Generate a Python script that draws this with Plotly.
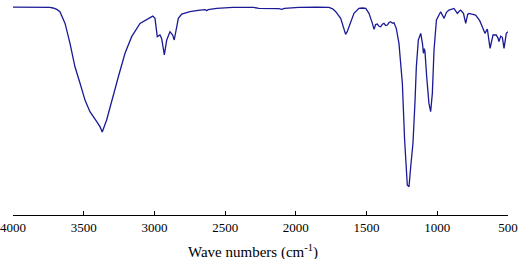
import plotly.graph_objects as go

wavenumber = [4000, 3900, 3800, 3740, 3717, 3690, 3668, 3632, 3597, 3562, 3526, 3491, 3456, 3430,
              3408, 3385, 3369, 3338, 3302, 3255, 3208, 3161, 3102, 3055, 3012, 2996, 2980, 2961,
              2949, 2930, 2913, 2890, 2871, 2860, 2847, 2831, 2807, 2749, 2678, 2640, 2630, 2620,
              2560, 2444, 2300, 2261, 2120, 2100, 2080, 1978, 1850, 1766, 1740, 1718, 1683, 1665,
              1648, 1635, 1624, 1589, 1554, 1530, 1506, 1483, 1459, 1447, 1436, 1424, 1412, 1400,
              1388, 1377, 1365, 1353, 1341, 1330, 1318, 1306, 1290, 1271, 1247, 1231, 1212, 1200,
              1188, 1172, 1157, 1148, 1134, 1117, 1105, 1098, 1092, 1087, 1075, 1059, 1047, 1035,
              1023, 1006, 976, 952, 935, 917, 882, 858, 845, 835, 815, 799, 785, 776, 729, 700,
              682, 663, 646, 627, 606, 583, 570, 564, 552, 540, 528, 512, 500]

transmittance = [100, 100, 100, 99.9, 99.6, 98.9, 97.8, 92.2, 82.6, 71.3, 63.4, 55.3, 49.7, 46.8,
                 44.9, 42.5, 39.9, 45.7, 55.3, 66.5, 77.8, 85.8, 92.2, 94.2, 95.7, 94.6, 85.8, 86.6,
                 85.0, 77.0, 84.2, 88.2, 86.6, 84.2, 88.2, 94.6, 96.7, 97.8, 98.6, 98.8, 98.3, 98.8,
                 99.4, 99.9, 99.9, 99.4, 99.3, 98.9, 99.4, 99.9, 100, 99.9, 99.2, 97.8, 94.6, 90.5,
                 86.9, 88.5, 90.6, 97.0, 99.4, 99.6, 99.4, 97.0, 92.2, 89.3, 91.6, 91.9, 90.8, 90.6,
                 91.8, 92.2, 91.2, 91.4, 92.6, 93.0, 92.3, 92.5, 89.8, 82.6, 63.4, 36.1, 14.4, 13.6,
                 23.2, 34.5, 55.3, 71.3, 84.2, 87.4, 82.6, 77.8, 80.0, 78.6, 66.5, 53.7, 49.7, 58.5,
                 79.4, 93.8, 97.8, 94.6, 97.5, 98.6, 99.4, 97.0, 98.0, 98.6, 97.0, 92.2, 96.5, 97.0,
                 96.2, 93.5, 90.6, 87.4, 89.5, 80.2, 86.6, 86.6, 85.0, 83.4, 86.0, 85.5, 80.2, 87.4,
                 88.2]

tick_values = [4000, 3500, 3000, 2500, 2000, 1500, 1000, 500]
tick_labels = [str(v) for v in tick_values]
x_title = "Wave numbers (cm<sup>-1</sup>)"

fig = go.Figure()
fig.add_trace(go.Scatter(x=wavenumber, y=transmittance, mode="lines",
                         line=dict(color="#1a1a96", width=1.3), hoverinfo="skip"))

fig.update_layout(
    width=518, height=259,
    margin=dict(l=13, r=10, t=3, b=44, autoexpand=False),
    paper_bgcolor="white", plot_bgcolor="white",
    showlegend=False,
    font=dict(family="Liberation Serif", color="black", size=13),
    xaxis=dict(
        range=[4000, 500], tickvals=tick_values, ticktext=tick_labels,
        showline=True, linecolor="black", linewidth=1,
        ticks="inside", ticklen=4, tickcolor="black", tickwidth=1,
        showgrid=False, zeroline=False, automargin=False,
        tickfont=dict(family="Liberation Serif", size=13),
    ),
    yaxis=dict(range=[0, 102], visible=False, showgrid=False, zeroline=False),
    annotations=[dict(text=x_title, xref="paper", yref="paper", x=0.4844, y=-0.173,
                      xanchor="center", yanchor="middle", showarrow=False,
                      font=dict(family="Liberation Serif", size=15, color="black"))],
)

fig.write_html("out.html", config={"displayModeBar": False},
               post_script="document.body.style.margin='0';document.body.style.overflow='hidden';")
